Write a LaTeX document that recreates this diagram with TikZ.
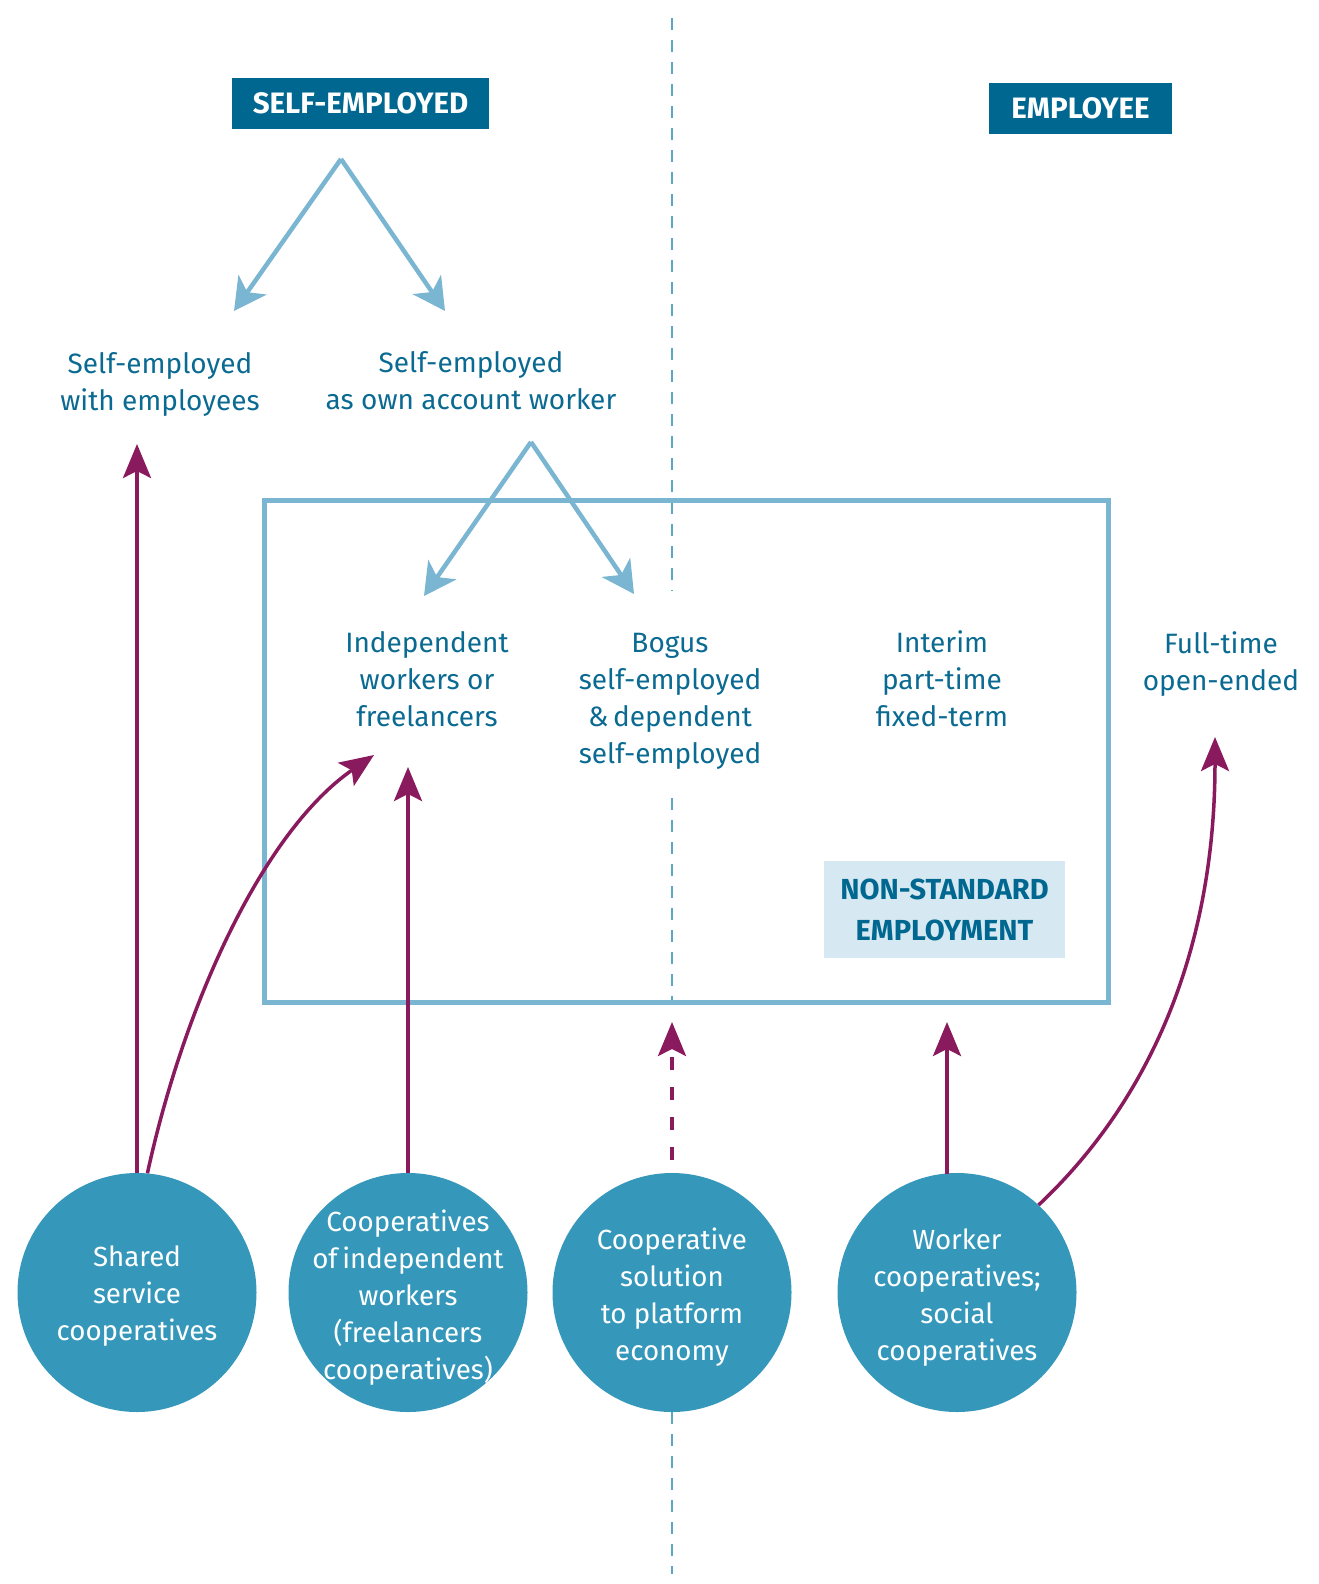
\documentclass[tikz,border=0pt]{standalone}
\usepackage{fontspec}
\setmainfont{Fira Sans}
\usetikzlibrary{arrows.meta}
\definecolor{hdr}{HTML}{006890}
\definecolor{lbl}{HTML}{0B6A92}
\definecolor{lblue}{HTML}{7AB5D1}
\definecolor{dline}{HTML}{5AA7C6}
\definecolor{circ}{HTML}{3598BB}
\definecolor{mag}{HTML}{8A1A5E}
\definecolor{nsfill}{HTML}{D6E8F1}
\tikzset{
  hdrbox/.style={fill=hdr, text=white, font=\fontsize{29.5}{34}\selectfont\bfseries, inner sep=0pt},
  lbltext/.style={text=lbl, align=center, font=\fontsize{28}{37}\selectfont, inner sep=0pt},
  coop/.style={circle, fill=circ, minimum size=239pt, inner sep=0pt},
  cooptext/.style={text=white, align=center, inner sep=0pt, font=\fontsize{27.7}{37}\selectfont},
  bluearrow/.style={draw=lblue, line width=4.5pt, -{Stealth[length=32pt, width=34pt, inset=9pt]}},
  magarrow/.style={draw=mag, line width=3.5pt, -{Stealth[length=34pt, width=28pt, inset=7pt]}},
  divider/.style={draw=dline, line width=2.2pt, dash pattern=on 12pt off 10pt},
}
\begin{document}
\begin{tikzpicture}[x=1pt, y=-1pt]
\useasboundingbox (0,0) rectangle (1319,1584);
% dashed divider
\coordinate (dtop) at (672,18);
\coordinate (dA) at (672,591);
\coordinate (dB) at (672,798);
\coordinate (dC) at (672,1000);
\coordinate (dD) at (672,1412);
\coordinate (dbot) at (672,1574);
\draw[divider] (dtop) -- (dA);
\draw[divider] (dB) -- (dC);
\draw[divider] (dD) -- (dbot);
% frame
\draw[lblue, line width=5pt] (264,500) rectangle (1108,1002);
% headers
\node[hdrbox, minimum width=257pt, minimum height=51pt] (selfemp) at (360.5,103.5) {SELF-EMPLOYED};
\node[hdrbox, minimum width=183pt, minimum height=51pt] (employee) at (1080.5,108.5) {EMPLOYEE};
% labels
\node[lbltext] (sewe) at (160,384) {Self-employed\\with employees};
\node[lbltext] (seoa) at (471,381) {Self-employed\\as own account worker};
\node[lbltext] (indep) at (427,679) {Independent\\workers or\\freelancers};
\node[lbltext] (bogus) at (670,701) {Bogus\\self-employed\\\&\,dependent\\self-employed};
\node[lbltext] (interim) at (942,679) {Interim\\part-time\\fixed-term};
\node[lbltext] (fulltime) at (1221,664) {Full-time\\open-ended};
\node[fill=nsfill, text=hdr, minimum width=241pt, minimum height=97pt, align=center, inner sep=0pt, font=\fontsize{29}{41}\selectfont\bfseries] (nonstd) at (944.5,909.5) {NON-STANDARD\\EMPLOYMENT};
% blue arrows
\coordinate (apex1) at (341,159);
\coordinate (t1l) at (234,311);
\coordinate (t1r) at (445,311);
\coordinate (apex2) at (531,442);
\coordinate (t2l) at (424,596);
\coordinate (t2r) at (634,594);
\draw[bluearrow] (apex1) -- (t1l);
\draw[bluearrow] (apex1) -- (t1r);
\draw[bluearrow] (apex2) -- (t2l);
\draw[bluearrow] (apex2) -- (t2r);
% circles
\node[coop] (c1) at (137,1292.5) {};
\node[coop] (c2) at (408,1292.5) {};
\node[coop] (c3) at (672,1292.5) {};
\node[coop] (c4) at (957,1292.5) {};
\node[cooptext] (c1t) at ([yshift=-4pt]c1.center) {Shared\\service\\cooperatives};
\node[cooptext] (c2t) at ([yshift=-5pt]c2.center) {Cooperatives\\of\,independent\\workers\\(freelancers\\cooperatives)};
\node[cooptext] (c3t) at ([yshift=-5pt]c3.center) {Cooperative\\solution\\to platform\\economy};
\node[cooptext] (c4t) at ([yshift=-5pt]c4.center) {Worker\\cooperatives;\\social\\cooperatives};
% magenta arrows
\coordinate (m1e) at (137,444);
\coordinate (m2e) at (374,755);
\coordinate (m3e) at (408,767);
\coordinate (m4s) at (672,1160);
\coordinate (m4e) at (672,1022);
\coordinate (m5e) at (947,1022);
\coordinate (m5s) at (947,1174);
\coordinate (m6e) at (1215,737);
\draw[magarrow] (c1.north) -- (m1e);
\draw[magarrow] (c1.85) .. controls (185,1000) and (265,830) .. (m2e);
\draw[magarrow] (c2.north) -- (m3e);
\draw[magarrow, dash pattern=on 13pt off 17pt] (m4s) -- (m4e);
\draw[magarrow] (m5s) -- (m5e);
\draw[magarrow] (c4.47) .. controls (1150,1100) and (1215,950) .. (m6e);
\end{tikzpicture}
\end{document}
